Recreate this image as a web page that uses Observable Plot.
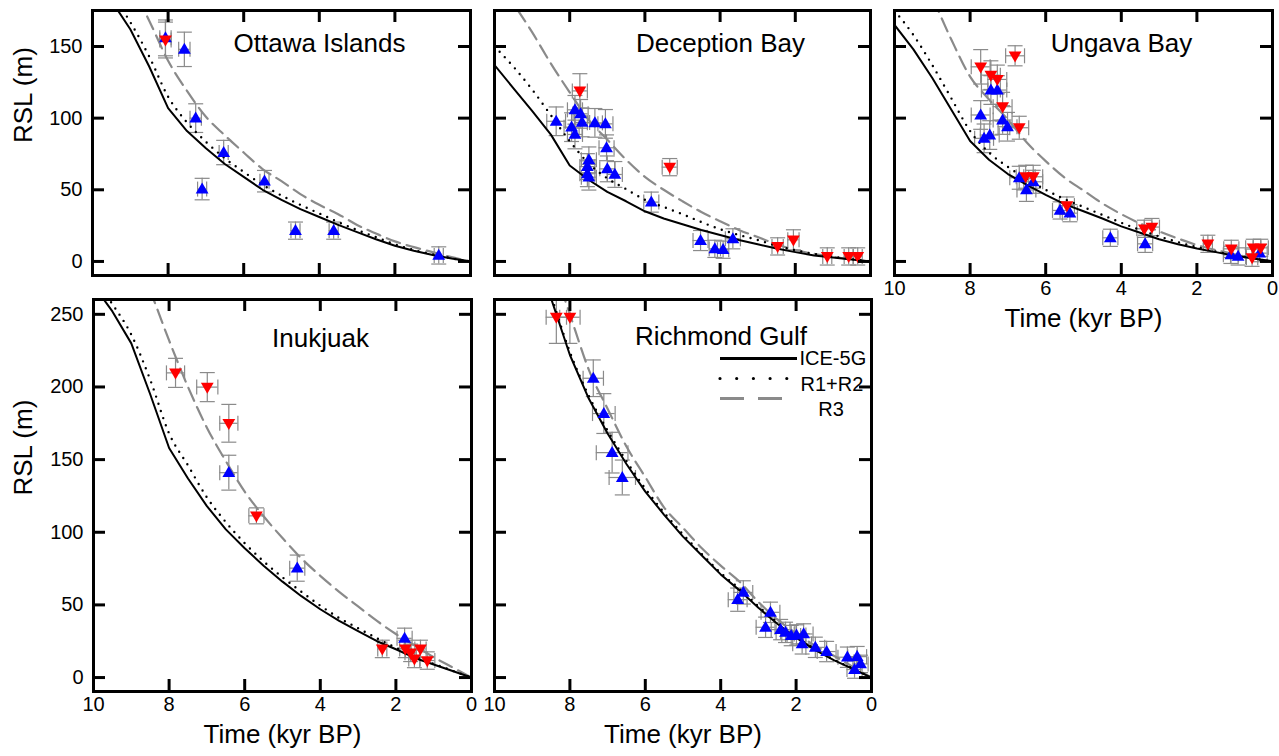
<!DOCTYPE html>
<html><head><meta charset="utf-8">
<script src="https://cdn.jsdelivr.net/npm/d3@7"></script>
<script src="https://cdn.jsdelivr.net/npm/@observablehq/plot@0.6"></script>
<style>
body{margin:0;background:#fff;}
#chart{position:relative;width:1279px;height:756px;overflow:hidden;background:#fff;}
#chart svg{position:absolute;overflow:visible;}
</style></head><body><div id="chart"></div>
<script>
// ---------- model curves (time in kyr BP, RSL in m) ----------
const modelTime = [10,9.5,9,8.5,8,7.5,7,6.5,6,5.5,5,4.5,4,3.5,3,2.5,2,1.5,1,0.5,0];

const ottawaIce5g = [200,182,162,136,107,91,79,68,59,50,43,36.5,31,25.5,20.5,15.5,11,7.5,4.5,2,0];
const ottawaR1R2  = [205,187,167,143,115,97,83.5,72,62.5,53.5,46,39.5,33.5,27.5,22,17,12,8,5,2.2,0];
const ottawaR3    = [250,220,194,168,140,119,101,88,76,64.5,56,47,39.5,33,25.5,19.5,14,10,6.5,3,0];

const deceptionIce5g = [137,121,105,88.5,67,57,48.5,42,35,30,26,22,18.5,15,12,9,6.5,4.2,2.8,1.4,0];
const deceptionR1R2  = [150,136,120,102,84,68.5,58,50.5,43,38,33,27.5,22.5,18.5,15,11,7.8,5.3,3.3,1.6,0];
const deceptionR3    = [200,180,160,138,118,99,85,71,59,50,42,34.5,28,22,17,12,8,5.3,3.2,1.5,0];

const ungavaIce5g = [165,148,128,106,84,71,61,53.5,46.5,40,35,30,24.5,20,15.5,12,9,6.5,4,2,0];
const ungavaR1R2  = [175,158,137,114,91,76,66,57.5,50,43.5,38,32.5,27,22,17.5,13.5,10,7,4.3,2.1,0];
const ungavaR3    = [235,210,184,155,129,113,99,83,70,58.5,49.5,40.5,33,26.5,21,16,11.5,8,5,2.3,0];

const inukjuakIce5g = [270,252,230,195,158,137,118,102,89,77,66,56,47,39,32,25,19.5,13.5,9,4.5,0];
const inukjuakR1R2  = [275,257,236,205,168,146,124,107,92.5,80,69,59,49.5,41,34,27,20.5,14.5,9.5,4.7,0];
const inukjuakR3    = [360,325,295,266,232,200,172,149,128,111,96,82,70,59,49,39,30,22,14,7,0];

const richmondIce5g = [360,330,300,261,222,192,168,147,128,112,97,84,71,60,48,37,27.5,19,12,6,0];
const richmondR1R2  = [362,332,302,263,224,194,170,149,130,113.5,98.5,85,72,61,49,38,28.3,19.6,12.4,6.2,0];
const richmondR3    = [420,370,325,288,250,212,185,159,138,117,103,89,77,66,52,40,30.5,22,15,7.5,0];

// ---------- observations: [time, RSL, timeErr, rslErr, kind] ----------
const ottawaObs = [
  [8.07,156,0.15,12.5,"up"],[8.07,154.5,0.15,12.5,"down"],[7.57,148,0.15,12,"up"],
  [7.27,100,0.15,10,"up"],[7.1,50.5,0.12,7.5,"up"],[6.53,76,0.12,8.5,"up"],
  [5.45,56,0.12,7.5,"up"],[4.63,21.5,0.12,6,"up"],[3.62,21.5,0.12,6,"up"],[0.84,4.2,0.12,6,"up"]
];
const deceptionObs = [
  [7.73,119,0.2,12,"down"],[7.86,105.8,0.2,10,"up"],[7.71,103,0.2,10,"up"],[8.36,97.8,0.25,10,"up"],
  [7.67,97,0.2,10,"up"],[7.33,96.7,0.2,10,"up"],[7.05,96,0.2,10,"up"],[7.95,93.7,0.2,10,"up"],
  [7.86,88.6,0.2,10,"up"],[7.02,79.3,0.2,9,"up"],[7.49,70.9,0.2,9,"up"],[7.53,66.2,0.2,9,"up"],
  [7.0,64.6,0.2,9,"up"],[6.8,60.7,0.2,9,"up"],[7.53,61.2,0.2,9,"up"],[7.49,58.8,0.2,9,"up"],
  [5.34,65.8,0.2,6,"down"],[5.83,41.4,0.2,7,"up"],[4.52,14.6,0.2,7,"up"],[4.14,8.8,0.15,6,"up"],
  [3.92,8.2,0.15,6,"up"],[3.66,15.8,0.2,7,"up"],[2.47,10.5,0.15,6,"down"],[2.05,15.1,0.15,7,"down"],
  [1.15,3.5,0.12,6,"down"],[0.58,3.5,0.12,6,"down"],[0.34,3.5,0.12,6,"down"]
];
const ungavaObs = [
  [6.81,143.5,0.25,7,"down"],[7.72,135.8,0.25,12,"down"],[7.45,130,0.25,10,"down"],[7.28,127,0.25,10,"down"],
  [7.45,119.6,0.25,10,"up"],[7.28,119.6,0.25,10,"up"],[7.14,108,0.25,10,"down"],[7.72,102.2,0.25,10,"up"],
  [7.14,98.7,0.25,10,"up"],[7.01,94,0.25,10,"up"],[6.7,93.3,0.25,8,"down"],[7.63,85.9,0.25,10,"up"],
  [7.48,88.2,0.25,10,"up"],[6.7,58.4,0.25,8,"up"],[6.53,59.1,0.25,8,"down"],[6.33,59.1,0.25,8,"down"],
  [6.51,49.9,0.25,8,"up"],[6.33,55.6,0.25,8,"up"],[5.44,39,0.2,6,"down"],[5.62,35.6,0.2,6,"up"],
  [5.36,33.7,0.2,6,"up"],[4.29,16.5,0.2,6,"up"],[3.39,22.8,0.2,6,"down"],[3.19,24,0.2,6,"down"],
  [3.37,12.3,0.2,6,"up"],[1.71,12.3,0.12,6,"down"],[1.09,8.8,0.2,6,"down"],[1.1,4.6,0.2,6,"up"],
  [0.91,3.5,0.2,6,"up"],[0.54,2.6,0.15,6,"down"],[0.51,9.5,0.2,6,"down"],[0.31,9.5,0.2,6,"down"],
  [0.34,5.8,0.2,6,"up"]
];
const inukjuakObs = [
  [7.83,209.7,0.24,10,"down"],[6.99,199.9,0.28,10,"down"],[6.42,175,0.24,13,"down"],[6.42,141,0.24,12,"up"],
  [5.69,111.3,0.2,5.5,"down"],[4.61,75.3,0.2,9,"up"],[1.77,27,0.2,7,"up"],[2.36,19.7,0.12,6,"down"],
  [1.75,19.7,0.15,6,"down"],[1.35,19.7,0.15,6,"down"],[1.61,17,0.15,6,"down"],[1.51,12.8,0.15,6,"down"],
  [1.17,11.7,0.2,6,"down"]
];
const richmondObs = [
  [8.36,248,0.27,18,"down"],[8.0,248,0.27,18,"down"],[7.38,206,0.27,12.6,"up"],[7.1,181.7,0.3,13.7,"up"],
  [6.88,154.8,0.42,14,"up"],[6.61,137.7,0.35,12,"up"],[3.55,53.6,0.25,8,"up"],[3.4,58.6,0.25,8,"up"],
  [2.68,44.9,0.25,7,"up"],[2.81,34.6,0.25,7,"up"],[2.41,33,0.25,7,"up"],[2.28,31.1,0.25,7,"up"],
  [2.13,28.9,0.25,7,"up"],[1.99,29.3,0.25,7,"up"],[1.8,30,0.25,7,"up"],[1.84,23.2,0.25,7,"up"],
  [1.49,20.8,0.25,7,"up"],[1.19,17.9,0.25,7,"up"],[0.64,14,0.25,7,"up"],[0.38,14.4,0.25,7,"up"],
  [0.45,5.5,0.2,6,"up"],[0.29,9.4,0.2,6,"up"]
];

// ---------- axis ticks & legend ----------
const xTickLabels = [10,8,6,4,2,0];
const xInnerTicks = [8,6,4,2];
const topYTicks = [0,50,100,150];
const bottomYTicks = [0,50,100,150,200,250];
const legendLabels = ["ICE-5G","R1+R2","R3"];

// ---------- symbols ----------
const triUp = {draw(c, s){const k=Math.sqrt(s/Math.PI)/6; c.moveTo(0,-6.6*k); c.lineTo(6.4*k,4.4*k); c.lineTo(-6.4*k,4.4*k); c.closePath();}};
const triDown = {draw(c, s){const k=Math.sqrt(s/Math.PI)/6; c.moveTo(0,6.6*k); c.lineTo(6.4*k,-4.4*k); c.lineTo(-6.4*k,-4.4*k); c.closePath();}};
const hCap = {draw(c, s){const r=Math.sqrt(s/Math.PI); c.moveTo(-r,0); c.lineTo(r,0);}};
const vCap = {draw(c, s){const r=Math.sqrt(s/Math.PI); c.moveTo(0,-r); c.lineTo(0,r);}};

const FONT = '"Liberation Sans", Arial, Helvetica, sans-serif';
const errColor = "#8a8a8a";

const panels = [
  {title:"Ottawa Islands", obs:ottawaObs, ice:ottawaIce5g, r12:ottawaR1R2, r3:ottawaR3,
   frame:[92,10,470,275], yDomain:[-9.8,175.1], yTicks:topYTicks, yLab:true, xLab:false, titleDy:33},
  {title:"Deception Bay", obs:deceptionObs, ice:deceptionIce5g, r12:deceptionR1R2, r3:deceptionR3,
   frame:[494,10,870,275], yDomain:[-9.8,175.1], yTicks:topYTicks, yLab:false, xLab:false, titleDy:33},
  {title:"Ungava Bay", obs:ungavaObs, ice:ungavaIce5g, r12:ungavaR1R2, r3:ungavaR3,
   frame:[894,10,1272,275], yDomain:[-9.8,175.1], yTicks:topYTicks, yLab:false, xLab:true, titleDy:33},
  {title:"Inukjuak", obs:inukjuakObs, ice:inukjuakIce5g, r12:inukjuakR1R2, r3:inukjuakR3,
   frame:[93,299,471,691], yDomain:[-9.6,260.2], yTicks:bottomYTicks, yLab:true, xLab:true, titleDy:39},
  {title:"Richmond Gulf", obs:richmondObs, ice:richmondIce5g, r12:richmondR1R2, r3:richmondR3,
   frame:[494,299,871,691], yDomain:[-9.6,260.2], yTicks:bottomYTicks, yLab:false, xLab:true, titleDy:37}
];

const chart = document.getElementById("chart");

function makePanel(p){
  const [L,T,R,B] = p.frame;
  const mL = p.yLab ? L : 20, mT = 10, mR = 7, mB = p.xLab ? 65 : 10;
  const iw = R-L, ih = B-T;
  const obs = p.obs.map(([t,v,te,ve,kind]) => ({t,v,te,ve,kind}));
  const curve = vals => modelTime.map((t,i) => ({t, v: vals[i]}));
  const capOpts = {r:7.5, stroke:errColor, strokeWidth:1.2, fill:"none", clip:true};
  const marks = [
    Plot.ruleX(obs, {x:"t", y1:d=>d.v-d.ve, y2:d=>d.v+d.ve, stroke:errColor, strokeWidth:1.2, clip:true}),
    Plot.ruleY(obs, {y:"v", x1:d=>d.t-d.te, x2:d=>d.t+d.te, stroke:errColor, strokeWidth:1.2, clip:true}),
    Plot.dot(obs, {x:"t", y:d=>d.v+d.ve, symbol:hCap, ...capOpts}),
    Plot.dot(obs, {x:"t", y:d=>d.v-d.ve, symbol:hCap, ...capOpts}),
    Plot.dot(obs, {x:d=>d.t-d.te, y:"v", symbol:vCap, ...capOpts}),
    Plot.dot(obs, {x:d=>d.t+d.te, y:"v", symbol:vCap, ...capOpts}),
    Plot.line(curve(p.r3), {x:"t", y:"v", stroke:"#8a8a8a", strokeWidth:2.2, strokeDasharray:"14,7", curve:"monotone-x", clip:true}),
    Plot.line(curve(p.r12), {x:"t", y:"v", stroke:"#000", strokeWidth:2.4, strokeDasharray:"0,7.5", strokeLinecap:"round", curve:"monotone-x", clip:true}),
    Plot.line(curve(p.ice), {x:"t", y:"v", stroke:"#000", strokeWidth:2, curve:"linear", clip:true}),
    Plot.dot(obs.filter(d=>d.kind==="up"), {x:"t", y:"v", symbol:triUp, r:6, fill:"#0000ff", stroke:"none"}),
    Plot.dot(obs.filter(d=>d.kind==="down"), {x:"t", y:"v", symbol:triDown, r:6, fill:"#ff0000", stroke:"none"}),
    Plot.frame({stroke:"#000", strokeWidth:3}),
    Plot.ruleY(p.yTicks, {y:d=>d, insetRight:iw-12, stroke:"#000", strokeWidth:3}),
    Plot.ruleY(p.yTicks, {y:d=>d, insetLeft:iw-12, stroke:"#000", strokeWidth:3}),
    Plot.ruleX(xInnerTicks, {x:d=>d, insetTop:ih-12, stroke:"#000", strokeWidth:3}),
    Plot.ruleX(xInnerTicks, {x:d=>d, insetBottom:ih-12, stroke:"#000", strokeWidth:3}),
    Plot.text([p.title], {text:d=>d, frameAnchor:"top", dx:38, dy:p.titleDy, fontSize:26, textAnchor:"middle", lineAnchor:"middle", fill:"#000"})
  ];
  if (p.yLab) {
    marks.push(Plot.text(p.yTicks, {y:d=>d, text:d=>String(d), frameAnchor:"left", dx:-10, textAnchor:"end", fontSize:20, fill:"#000"}));
    marks.push(Plot.text(["RSL (m)"], {text:d=>d, frameAnchor:"left", dx:-(L-23), rotate:-90, fontSize:26, fill:"#000"}));
  }
  if (p.xLab) {
    marks.push(Plot.text(xTickLabels, {x:d=>d, text:d=>String(d), frameAnchor:"bottom", dy:19, fontSize:20, fill:"#000"}));
    marks.push(Plot.text(["Time (kyr BP)"], {text:d=>d, frameAnchor:"bottom", dy:51, fontSize:26, fill:"#000"}));
  }
  const svg = Plot.plot({
    width: mL+iw+mR, height: mT+ih+mB,
    marginLeft:mL, marginTop:mT, marginRight:mR, marginBottom:mB,
    x:{domain:[10,0], axis:null},
    y:{domain:p.yDomain, axis:null},
    style:{background:"transparent", fontFamily:FONT, fontSize:"20px", color:"#000"},
    marks
  });
  svg.style.left = (L-mL)+"px";
  svg.style.top = (T-mT)+"px";
  chart.appendChild(svg);
}
panels.forEach(makePanel);

// ---------- legend (inside Richmond Gulf panel) ----------
const legendRows = legendLabels.map((label,i) => ({label, i}));
const legend = Plot.plot({
  width:165, height:80, margin:0,
  x:{domain:[0,1], range:[5,82], axis:null},
  y:{type:"point", domain:legendLabels, range:[17.7,57.7], padding:0, axis:null},
  style:{background:"transparent", fontFamily:FONT, fontSize:"20px", color:"#000"},
  marks:[
    Plot.ruleY([legendLabels[0]], {y:d=>d, x1:0, x2:1, stroke:"#000", strokeWidth:3}),
    Plot.ruleY([legendLabels[1]], {y:d=>d, x1:0, x2:0.87, stroke:"#000", strokeWidth:3.2, strokeDasharray:"0,16.7", strokeLinecap:"round"}),
    Plot.ruleY([legendLabels[2]], {y:d=>d, x1:0, x2:0.82, stroke:"#8a8a8a", strokeWidth:3, strokeDasharray:"24,14"}),
    Plot.text([legendRows[0]], {y:"label", x:1.026, text:"label", textAnchor:"start", dy:0, fontSize:20, fill:"#000"}),
    Plot.text([legendRows[1]], {y:"label", x:1.039, text:"label", textAnchor:"start", dy:6, fontSize:20, fill:"#000"}),
    Plot.text([legendRows[2]], {y:"label", x:1.27, text:"label", textAnchor:"start", dy:11, fontSize:20, fill:"#000"})
  ]
});
legend.style.left = "715px";
legend.style.top = "340px";
chart.appendChild(legend);
</script>
</body></html>
